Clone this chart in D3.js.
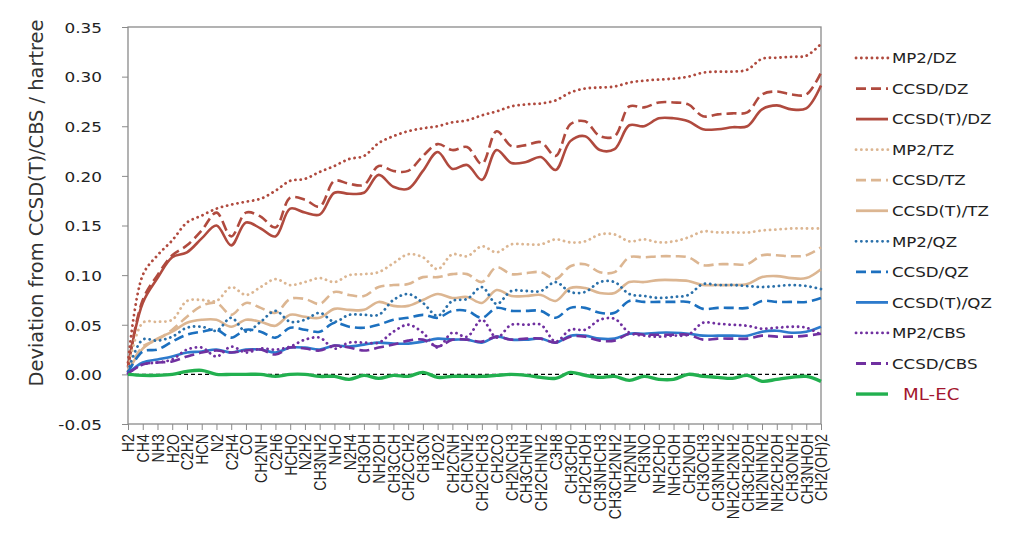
<!DOCTYPE html>
<html>
<head>
<meta charset="utf-8">
<script src="https://cdn.jsdelivr.net/npm/d3@7.9.0/dist/d3.min.js"></script>
<style>
  body { margin: 0; background: #fff; }
  svg { display: block; }
</style>
</head>
<body>
<svg id="chart" width="1024" height="547"></svg>
<script>
// Categories (molecules)
const molecules = ['H2', 'CH4', 'NH3', 'H2O', 'C2H2', 'HCN', 'N2', 'C2H4', 'CO', 'CH2NH',
  'C2H6', 'HCHO', 'N2H2', 'CH3NH2', 'NHO', 'N2H4', 'CH3OH', 'NH2OH', 'CH3CCH', 'CH2CCH2',
  'CH3CN', 'H2O2', 'CH2CNH', 'CHCNH2', 'CH2CHCH3', 'CH2CO', 'CH2NCH3', 'CH3CHNH', 'CH2CHNH2', 'C3H8',
  'CH3CHO', 'CH2CHOH', 'CH3NHCH3', 'CH3CH2NH2', 'NH2NNH', 'CH3NO', 'NH2CHO', 'NHCHOH', 'CH2NOH', 'CH3OCH3',
  'CH3NHNH2', 'NH2CH2NH2', 'CH3CH2OH', 'NH2NHNH2', 'NH2CH2OH', 'CH3ONH2', 'CH3NHOH', 'CH2(OH)2'];

// Series values (hartree)
const mp2DZ = [0.012, 0.100, 0.120, 0.135, 0.153, 0.160, 0.167, 0.171, 0.174, 0.177,
  0.185, 0.195, 0.197, 0.204, 0.210, 0.217, 0.220, 0.233, 0.240, 0.245,
  0.248, 0.250, 0.254, 0.256, 0.261, 0.265, 0.270, 0.272, 0.273, 0.276,
  0.284, 0.288, 0.289, 0.290, 0.294, 0.296, 0.297, 0.298, 0.300, 0.304,
  0.305, 0.305, 0.307, 0.318, 0.319, 0.320, 0.321, 0.333];
const ccsdDZ = [0.008, 0.075, 0.100, 0.120, 0.130, 0.145, 0.163, 0.139, 0.163, 0.159,
  0.148, 0.178, 0.176, 0.169, 0.195, 0.192, 0.191, 0.210, 0.205, 0.205,
  0.220, 0.232, 0.226, 0.229, 0.212, 0.245, 0.230, 0.231, 0.234, 0.220,
  0.252, 0.255, 0.240, 0.240, 0.270, 0.269, 0.274, 0.274, 0.272, 0.260,
  0.262, 0.263, 0.264, 0.282, 0.285, 0.282, 0.282, 0.304];
const ccsdtDZ = [0.007, 0.072, 0.097, 0.118, 0.123, 0.137, 0.150, 0.130, 0.153, 0.147,
  0.139, 0.167, 0.163, 0.161, 0.183, 0.182, 0.183, 0.201, 0.189, 0.187,
  0.205, 0.224, 0.207, 0.211, 0.196, 0.226, 0.213, 0.214, 0.219, 0.206,
  0.235, 0.240, 0.226, 0.227, 0.251, 0.250, 0.258, 0.258, 0.255, 0.247,
  0.247, 0.249, 0.250, 0.267, 0.271, 0.267, 0.268, 0.291];
const mp2TZ = [0.003, 0.052, 0.053, 0.055, 0.074, 0.075, 0.074, 0.088, 0.080, 0.088,
  0.096, 0.090, 0.093, 0.097, 0.093, 0.100, 0.101, 0.103, 0.112, 0.121,
  0.118, 0.106, 0.121, 0.119, 0.129, 0.123, 0.131, 0.131, 0.131, 0.136,
  0.133, 0.134, 0.141, 0.141, 0.134, 0.136, 0.133, 0.134, 0.138, 0.144,
  0.143, 0.143, 0.143, 0.145, 0.146, 0.147, 0.147, 0.147];
const ccsdTZ = [0.003, 0.028, 0.035, 0.045, 0.058, 0.069, 0.072, 0.060, 0.072, 0.067,
  0.062, 0.076, 0.076, 0.071, 0.083, 0.080, 0.079, 0.088, 0.090, 0.091,
  0.098, 0.098, 0.101, 0.101, 0.093, 0.108, 0.101, 0.102, 0.103, 0.096,
  0.109, 0.111, 0.103, 0.103, 0.118, 0.118, 0.119, 0.119, 0.118, 0.110,
  0.111, 0.111, 0.111, 0.120, 0.120, 0.119, 0.120, 0.128];
const ccsdtTZ = [0.003, 0.026, 0.036, 0.043, 0.052, 0.055, 0.055, 0.048, 0.055, 0.053,
  0.049, 0.060, 0.058, 0.057, 0.066, 0.065, 0.065, 0.073, 0.069, 0.069,
  0.075, 0.081, 0.077, 0.078, 0.072, 0.085, 0.079, 0.079, 0.080, 0.074,
  0.087, 0.087, 0.082, 0.082, 0.093, 0.093, 0.095, 0.095, 0.094, 0.090,
  0.090, 0.090, 0.091, 0.098, 0.099, 0.097, 0.097, 0.106];
const mp2QZ = [0.003, 0.035, 0.034, 0.038, 0.047, 0.048, 0.044, 0.057, 0.043, 0.053,
  0.064, 0.053, 0.055, 0.062, 0.053, 0.060, 0.060, 0.060, 0.075, 0.081,
  0.072, 0.059, 0.074, 0.076, 0.088, 0.071, 0.084, 0.084, 0.084, 0.093,
  0.083, 0.083, 0.093, 0.093, 0.081, 0.079, 0.077, 0.078, 0.080, 0.091,
  0.090, 0.090, 0.089, 0.088, 0.089, 0.090, 0.089, 0.086];
const ccsdQZ = [0.002, 0.023, 0.025, 0.033, 0.040, 0.043, 0.045, 0.037, 0.045, 0.043,
  0.037, 0.047, 0.045, 0.043, 0.052, 0.048, 0.047, 0.050, 0.055, 0.057,
  0.060, 0.057, 0.064, 0.064, 0.057, 0.067, 0.064, 0.064, 0.064, 0.057,
  0.067, 0.067, 0.062, 0.062, 0.074, 0.073, 0.073, 0.073, 0.073, 0.066,
  0.067, 0.067, 0.067, 0.074, 0.073, 0.073, 0.073, 0.077];
const ccsdtQZ = [0.001, 0.012, 0.015, 0.018, 0.022, 0.023, 0.025, 0.022, 0.025, 0.025,
  0.022, 0.027, 0.027, 0.025, 0.029, 0.028, 0.030, 0.032, 0.031, 0.031,
  0.033, 0.036, 0.035, 0.035, 0.032, 0.038, 0.035, 0.035, 0.036, 0.032,
  0.039, 0.039, 0.036, 0.036, 0.041, 0.041, 0.042, 0.042, 0.041, 0.039,
  0.039, 0.039, 0.039, 0.043, 0.044, 0.042, 0.043, 0.048];
const mp2CBS = [0.001, 0.010, 0.012, 0.015, 0.025, 0.027, 0.018, 0.028, 0.022, 0.026,
  0.025, 0.028, 0.035, 0.037, 0.026, 0.032, 0.032, 0.032, 0.043, 0.050,
  0.042, 0.027, 0.042, 0.038, 0.055, 0.037, 0.050, 0.050, 0.050, 0.033,
  0.045, 0.045, 0.055, 0.056, 0.042, 0.039, 0.038, 0.039, 0.040, 0.052,
  0.051, 0.050, 0.049, 0.046, 0.047, 0.048, 0.047, 0.040];
const ccsdCBS = [0.001, 0.010, 0.012, 0.013, 0.018, 0.022, 0.024, 0.022, 0.024, 0.025,
  0.020, 0.027, 0.026, 0.024, 0.029, 0.027, 0.024, 0.027, 0.030, 0.034,
  0.035, 0.028, 0.035, 0.035, 0.033, 0.038, 0.035, 0.036, 0.036, 0.032,
  0.038, 0.038, 0.034, 0.034, 0.041, 0.040, 0.040, 0.040, 0.040, 0.035,
  0.036, 0.036, 0.036, 0.039, 0.038, 0.038, 0.039, 0.041];
const mlEC = [0.000, -0.001, -0.001, 0.000, 0.003, 0.004, 0.000, 0.000, 0.000, 0.000,
  -0.002, 0.000, 0.000, -0.002, -0.002, -0.005, -0.001, -0.004, -0.001, -0.002,
  0.002, -0.003, -0.002, -0.002, -0.002, -0.001, 0.000, -0.001, -0.003, -0.004,
  0.002, -0.001, -0.003, -0.002, -0.006, -0.002, -0.005, -0.005, 0.000, -0.002,
  -0.003, -0.004, -0.001, -0.007, -0.005, -0.003, -0.002, -0.007];

// Axis ticks
const yTickValues = [-0.05, 0.00, 0.05, 0.10, 0.15, 0.20, 0.25, 0.30, 0.35];
const yTitle = 'Deviation from CCSD(T)/CBS / hartree';

// Styles
const red = '#b04a3e', tan = '#dcb692', blueDot = '#2a70aa', blueDash = '#1c70bf', blueSolid = '#2d7acc',
  purple = '#7030a0', green = '#22b04f';
const DOT = '0.1 5.2', DASH = '10 5', SOLID = null;

const series = [
  { name: 'MP2/DZ', values: mp2DZ, color: red, dash: DOT },
  { name: 'CCSD/DZ', values: ccsdDZ, color: red, dash: DASH },
  { name: 'CCSD(T)/DZ', values: ccsdtDZ, color: red, dash: SOLID },
  { name: 'MP2/TZ', values: mp2TZ, color: tan, dash: DOT },
  { name: 'CCSD/TZ', values: ccsdTZ, color: tan, dash: DASH },
  { name: 'CCSD(T)/TZ', values: ccsdtTZ, color: tan, dash: SOLID },
  { name: 'MP2/QZ', values: mp2QZ, color: blueDot, dash: DOT },
  { name: 'CCSD/QZ', values: ccsdQZ, color: blueDash, dash: DASH },
  { name: 'CCSD(T)/QZ', values: ccsdtQZ, color: blueSolid, dash: SOLID },
  { name: 'MP2/CBS', values: mp2CBS, color: purple, dash: DOT },
  { name: 'CCSD/CBS', values: ccsdCBS, color: purple, dash: DASH },
  { name: 'ML-EC', values: mlEC, color: green, dash: SOLID }
];

// the source picture is stretched horizontally, so text is too
const SX = 1.14;

const svg = d3.select('#chart');

const x = d3.scalePoint().domain(molecules).range([128, 821]);
const y = d3.scaleLinear().domain([-0.05, 0.35]).range([424, 27]);

// Y axis
const yAxis = svg.append('g')
  .attr('transform', 'translate(128,0)')
  .call(d3.axisLeft(y).tickValues(yTickValues).tickSize(6).tickFormat((d) => d.toFixed(2)));
yAxis.select('.domain').remove();
yAxis.selectAll('line').attr('stroke', '#8a8a8a');
yAxis.selectAll('text')
  .attr('x', -26 / SX)
  .attr('dy', '0.36em')
  .attr('transform', `scale(${SX},1)`)
  .attr('fill', '#222')
  .style('font-family', 'DejaVu Sans')
  .style('font-size', '14.8px');

// X axis
const xAxis = svg.append('g')
  .attr('transform', 'translate(0,424)')
  .call(d3.axisBottom(x).tickSize(6));
xAxis.select('.domain').remove();
xAxis.selectAll('line').attr('stroke', '#8a8a8a');
xAxis.selectAll('text')
  .attr('x', 0)
  .attr('y', 0)
  .attr('dy', '0.36em')
  .attr('text-anchor', 'end')
  .attr('transform', `translate(0,10) scale(${SX},1) rotate(-90)`)
  .attr('fill', '#222')
  .style('font-family', 'Liberation Sans, Arial')
  .style('font-size', '14.2px');

// Frame
svg.append('rect')
  .attr('x', 128).attr('y', 27)
  .attr('width', 821 - 128).attr('height', 424 - 27)
  .attr('fill', 'none')
  .attr('stroke', '#8a8a8a')
  .attr('stroke-width', 1.3);

// Zero line
svg.append('line')
  .attr('x1', 128).attr('x2', 821)
  .attr('y1', y(0)).attr('y2', y(0))
  .attr('stroke', '#000')
  .attr('stroke-width', 1.4)
  .attr('stroke-dasharray', '4 3');

// Y title
svg.append('text')
  .attr('transform', 'translate(36,203) rotate(-90)')
  .attr('text-anchor', 'middle')
  .attr('dy', '0.35em')
  .attr('fill', '#333')
  .style('font-family', 'DejaVu Sans')
  .style('font-size', '19.4px')
  .text(yTitle);

// Lines
const line = d3.line()
  .x((d, i) => x(molecules[i]))
  .y((d) => y(d))
  .curve(d3.curveCatmullRom.alpha(0.5));

series.forEach((s) => {
  svg.append('path')
    .attr('d', line(s.values))
    .attr('fill', 'none')
    .attr('stroke', s.color)
    .attr('stroke-width', s.name === 'ML-EC' ? 3.4 : (s.dash === DOT ? 2.8 : 2.6))
    .attr('stroke-linecap', s.dash === DOT ? 'round' : 'butt')
    .attr('stroke-linejoin', 'round')
    .attr('stroke-dasharray', s.dash);
});

// Legend
const legend = svg.append('g');
series.forEach((s, i) => {
  const ly = 58 + i * 30.55;
  legend.append('line')
    .attr('x1', 856).attr('x2', 888)
    .attr('y1', ly).attr('y2', ly)
    .attr('stroke', s.color)
    .attr('stroke-width', s.name === 'ML-EC' ? 3.4 : 2.8)
    .attr('stroke-linecap', s.dash === DOT ? 'round' : 'butt')
    .attr('stroke-dasharray', s.dash);
  const isML = s.name === 'ML-EC';
  legend.append('text')
    .attr('transform', `translate(${isML ? 903 : 892},${ly}) scale(${SX},1)`)
    .attr('dy', '0.36em')
    .attr('fill', isML ? '#a3162e' : '#222')
    .style('font-family', 'DejaVu Sans')
    .style('font-size', isML ? '16px' : '14.6px')
    .text(s.name);
});
</script>
</body>
</html>
